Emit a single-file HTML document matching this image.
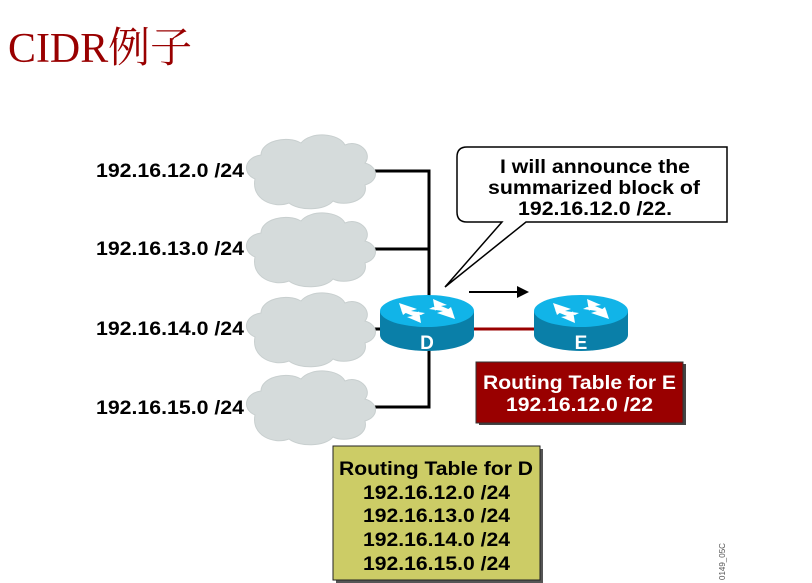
<!DOCTYPE html>
<html><head><meta charset="utf-8"><style>
html,body{margin:0;padding:0;background:#fff;width:812px;height:583px;overflow:hidden}
svg text{font-family:"Liberation Sans",Arial,sans-serif;font-weight:bold}
</style></head><body>
<svg width="812" height="583" viewBox="0 0 812 583" xmlns="http://www.w3.org/2000/svg">
<defs>
<g id="cloud">
<path d="M-56,8 C-70,2 -66,-14 -50,-16 C-50,-30 -24,-36 -10,-28 C0,-40 28,-38 34,-26 C48,-32 62,-18 54,-8 C68,-4 68,10 54,14 C58,30 34,36 22,30 C14,40 -12,40 -22,32 C-38,38 -60,28 -56,8 Z" fill="#d5dbdb" stroke="#c8cfcf" stroke-width="1"/>
</g>
<g id="router">
<path d="M-47,-12 L-47,12 A47,16 0 0 0 47,12 L47,-12 Z" fill="#0a7fa8"/>
<ellipse cx="0" cy="-12" rx="47" ry="16" fill="#11b4e8"/>
<path d="M-28,-20 L-10,-14 L-16,-12 L-2,-10 L-6,-8 L-20,-11 L-24,-8 Z M28,-4 L10,-10 L16,-12 L2,-14 L6,-16 L20,-13 L24,-16 Z M6,-24 L20,-18 L14,-17 L26,-12 L22,-10 L10,-15 L8,-12 Z M-6,0 L-20,-6 L-14,-7 L-26,-12 L-22,-14 L-10,-9 L-8,-12 Z" fill="#fff"/>
</g>
</defs>
<text x="8" y="62" textLength="184" lengthAdjust="spacingAndGlyphs" style="font-family:'Liberation Serif','Noto Serif CJK SC',serif;font-weight:normal" font-size="42" fill="#990000">CIDR例子</text>

<g stroke="#000" stroke-width="3" fill="none">
<path d="M372,171 H429 V407 H372"/>
<path d="M372,249 H429"/>
<path d="M372,329 H429"/>
</g>
<use href="#cloud" x="311" y="171"/>
<use href="#cloud" x="311" y="249"/>
<use href="#cloud" x="311" y="329"/>
<use href="#cloud" x="311" y="407"/>

<g font-size="19" fill="#000">
<text x="96" y="177" textLength="148" lengthAdjust="spacingAndGlyphs">192.16.12.0 /24</text>
<text x="96" y="255" textLength="148" lengthAdjust="spacingAndGlyphs">192.16.13.0 /24</text>
<text x="96" y="335" textLength="148" lengthAdjust="spacingAndGlyphs">192.16.14.0 /24</text>
<text x="96" y="414" textLength="148" lengthAdjust="spacingAndGlyphs">192.16.15.0 /24</text>
</g>

<line x1="472" y1="329" x2="536" y2="329" stroke="#990000" stroke-width="3"/>
<use href="#router" x="427" y="323"/>
<use href="#router" x="581" y="323"/>
<text x="427" y="349" font-size="19" fill="#fff" text-anchor="middle">D</text>
<text x="581" y="349" font-size="19" fill="#fff" text-anchor="middle">E</text>

<line x1="469" y1="292" x2="518" y2="292" stroke="#000" stroke-width="2"/>
<path d="M529,292 L517,286 L517,298 Z" fill="#000"/>

<path d="M467,147 H727 V222 H526 L445,287 L502,222 H467 Q457,222 457,212 V157 Q457,147 467,147 Z" fill="#fff" stroke="#000" stroke-width="1.5"/>
<g font-size="19" fill="#000">
<text x="500" y="173" textLength="190" lengthAdjust="spacingAndGlyphs">I will announce the</text>
<text x="488" y="194" textLength="212" lengthAdjust="spacingAndGlyphs">summarized block of</text>
<text x="518" y="215" textLength="154" lengthAdjust="spacingAndGlyphs">192.16.12.0 /22.</text>
</g>

<rect x="479" y="364" width="207" height="61" fill="#444"/>
<rect x="476" y="362" width="207" height="61" fill="#990000" stroke="#333" stroke-width="1"/>
<g font-size="19" fill="#fff">
<text x="483" y="389" textLength="193" lengthAdjust="spacingAndGlyphs">Routing Table for E</text>
<text x="506" y="411" textLength="147" lengthAdjust="spacingAndGlyphs">192.16.12.0 /22</text>
</g>

<rect x="336" y="449" width="207" height="134" fill="#555"/>
<rect x="333" y="446" width="207" height="134" fill="#cccc66" stroke="#222" stroke-width="1"/>
<g font-size="19" fill="#000">
<text x="339" y="475" textLength="194" lengthAdjust="spacingAndGlyphs">Routing Table for D</text>
<text x="363" y="499" textLength="147" lengthAdjust="spacingAndGlyphs">192.16.12.0 /24</text>
<text x="363" y="522" textLength="147" lengthAdjust="spacingAndGlyphs">192.16.13.0 /24</text>
<text x="363" y="546" textLength="147" lengthAdjust="spacingAndGlyphs">192.16.14.0 /24</text>
<text x="363" y="570" textLength="147" lengthAdjust="spacingAndGlyphs">192.16.15.0 /24</text>
</g>
<text transform="translate(725,580) rotate(-90)" font-size="8" fill="#555" style="font-weight:normal">0149_05C</text>
</svg>
</body></html>
